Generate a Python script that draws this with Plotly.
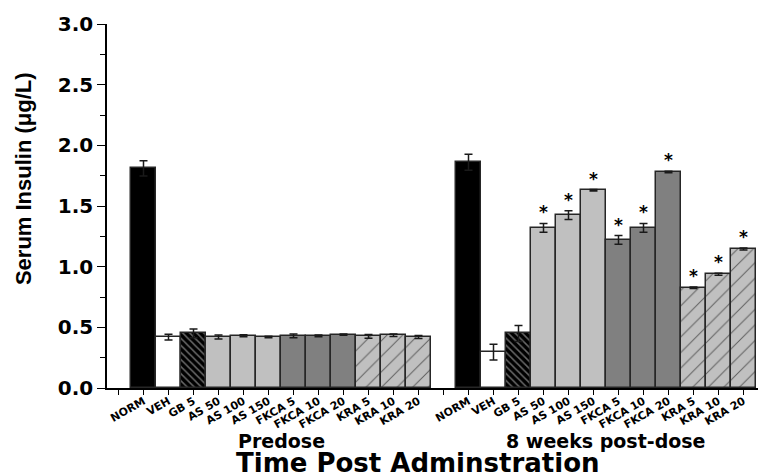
import plotly.graph_objects as go

# ---------------- data ----------------
groups = ["Predose", "8 weeks post-dose"]
treatments = ["NORM", "VEH", "GB 5", "AS 50", "AS 100", "AS 150",
              "FKCA 5", "FKCA 10", "FKCA 20", "KRA 5", "KRA 10", "KRA 20"]
predose_mean = [1.81, 0.42, 0.45, 0.42, 0.43, 0.42, 0.43, 0.43, 0.44, 0.425, 0.435, 0.42]
predose_err = [0.063, 0.024, 0.036, 0.017, 0.008, 0.006, 0.015, 0.007, 0.006, 0.015, 0.010, 0.012]
post_mean = [1.86, 0.295, 0.45, 1.32, 1.425, 1.63, 1.22, 1.32, 1.78, 0.827, 0.937, 1.146]
post_err = [0.066, 0.065, 0.066, 0.036, 0.036, 0.006, 0.036, 0.036, 0.006, 0.006, 0.008, 0.008]
predose_sig = [False] * 12
post_sig = [False, False, False, True, True, True, True, True, True, True, True, True]
y_ticks = [0.0, 0.5, 1.0, 1.5, 2.0, 2.5, 3.0]

# ---------------- styles ----------------
style = {
    "NORM": dict(color="#000000"),
    "VEH": dict(color="#ffffff"),
    "GB": dict(color="#000000", pattern=dict(shape="\\", bgcolor="#000000",
                                             fgcolor="#d0d0d0", size=5, solidity=0.3,
                                             fillmode="overlay")),
    "AS": dict(color="#c0c0c0"),
    "FKCA": dict(color="#808080"),
    "KRA": dict(color="#c0c0c0", pattern=dict(shape="/", bgcolor="#c0c0c0",
                                              fgcolor="#000000", size=11, solidity=0.09,
                                              fillmode="overlay")),
}

means_by_group = [predose_mean, post_mean]
errs_by_group = [predose_err, post_err]
sig_by_group = [predose_sig, post_sig]

series = {}  # key -> dict of x, y, err
tickvals, ticktext = [], []
group_centers = []
stars_x, stars_y = [], []
pos = 0
for g, grp in enumerate(groups):
    tickvals.append(pos); ticktext.append("")
    pos += 1
    start = pos
    for t, name in enumerate(treatments):
        key = name.split()[0]
        s = series.setdefault(key, dict(x=[], y=[], e=[]))
        s["x"].append(pos)
        s["y"].append(means_by_group[g][t])
        s["e"].append(errs_by_group[g][t])
        tickvals.append(pos); ticktext.append(name)
        if sig_by_group[g][t]:
            stars_x.append(pos); stars_y.append(means_by_group[g][t] + errs_by_group[g][t])
        pos += 1
    group_centers.append((start + pos - 1) / 2)

fig = go.Figure()
for key, s in series.items():
    st = style[key]
    marker = dict(color=st["color"], line=dict(color="#262626", width=1.5))
    if "pattern" in st:
        marker["pattern"] = st["pattern"]
    fig.add_trace(go.Bar(
        x=s["x"], y=s["y"], width=1.0, marker=marker, name=key,
        error_y=dict(type="data", array=s["e"], visible=True, color="#1a1a1a",
                     thickness=1.5, width=4),
        showlegend=False, hoverinfo="skip",
    ))

for sx, sy in zip(stars_x, stars_y):
    fig.add_annotation(x=sx, y=sy, text="*", showarrow=False, yanchor="middle",
                       yshift=11, font=dict(family="DejaVu Sans", size=17,
                                            color="black", weight="bold"))

for gc, grp in zip(group_centers, groups):
    fig.add_annotation(x=gc, xref="x", y=-0.1456, yref="paper", text=grp,
                       showarrow=False, yanchor="middle",
                       font=dict(family="DejaVu Sans", size=19, color="black",
                                 weight="bold"))

fig.add_annotation(x=0.478, xref="paper", y=-0.205, yref="paper",
                   text="Time Post Adminstration", showarrow=False, yanchor="middle",
                   font=dict(family="DejaVu Sans", size=26, color="black", weight="bold"))

fig.add_annotation(x=-0.129, xref="paper", y=0.574, yref="paper",
                   text="Serum Insulin (\u03bcg/L)", textangle=-90, showarrow=False,
                   xanchor="center", yanchor="middle",
                   font=dict(family="Liberation Sans", size=22, color="black",
                             weight="bold"))

fig.update_xaxes(range=[-0.46, 25.58], tickmode="array", tickvals=tickvals,
                 ticktext=ticktext, tickangle=-30, ticks="outside", ticklen=5,
                 tickwidth=1.2, tickcolor="black", showline=True, linecolor="black",
                 linewidth=1.5, showgrid=False, zeroline=False,
                 ticklabelstandoff=-4,
                 tickfont=dict(family="DejaVu Sans", size=11, color="black",
                               weight="bold"))
fig.update_yaxes(range=[0, 3.0], tickmode="array", tickvals=y_ticks,
                 ticktext=[f"{v:.1f}" for v in y_ticks], ticks="outside", ticklen=8,
                 tickwidth=1.2, tickcolor="black", showline=True, linecolor="black",
                 linewidth=1.5, showgrid=False, zeroline=False,
                 minor=dict(dtick=0.25, ticks="outside", ticklen=5, tickwidth=1.2,
                            tickcolor="black", showgrid=False),
                 tickfont=dict(family="DejaVu Sans", size=20, color="black",
                               weight="bold"))

fig.update_layout(width=758, height=475, margin=dict(l=107, r=0, t=24, b=87),
                  plot_bgcolor="white", paper_bgcolor="white", bargap=0,
                  barmode="overlay")

fig.write_html("out.html", config={"displayModeBar": False},
               post_script="document.body.style.margin='0';document.body.style.overflow='hidden';")
